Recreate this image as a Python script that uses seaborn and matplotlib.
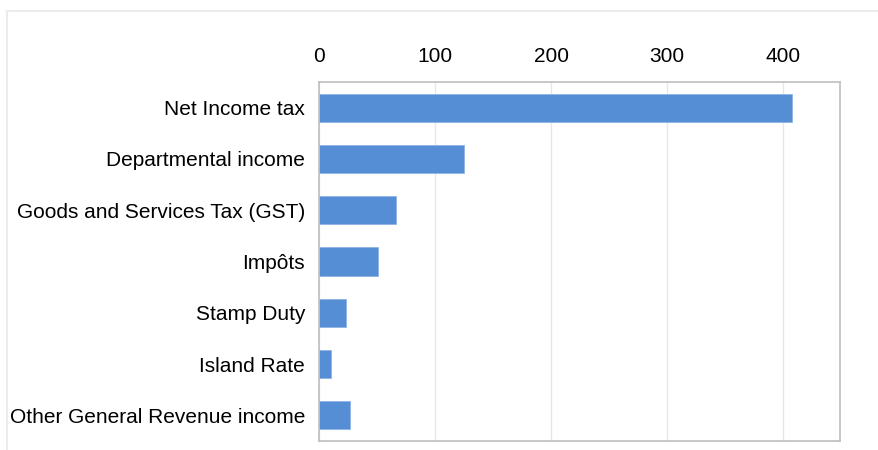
import numpy as np
import pandas as pd
import matplotlib.pyplot as plt
import seaborn as sns
from matplotlib.patches import Rectangle

categories = ["Net Income tax", "Departmental income", "Goods and Services Tax (GST)",
              "Impôts", "Stamp Duty", "Island Rate", "Other General Revenue income"]
values = [408, 125, 66, 51, 23, 10, 27]
x_ticks = [0, 100, 200, 300, 400]

df = pd.DataFrame({"category": categories, "value": values})

sns.set_style("white")
plt.rcParams['font.family'] = ['Liberation Sans', 'DejaVu Sans']

fig = plt.figure(figsize=(8.79, 4.5), dpi=100)
ax = fig.add_axes([319 / 879, 1 - 441 / 450, (840 - 319) / 879, (441 - 82) / 450])

sns.barplot(data=df, x="value", y="category", color="#558ED5", width=0.55,
            saturation=1, edgecolor="#8fb4e6", linewidth=0.6, ax=ax)

ax.set_xlim(0, 449)
ax.set_xticks(x_ticks)
ax.xaxis.tick_top()
ax.set_xlabel("")
ax.set_ylabel("")
ax.grid(axis="x", color="#e6e6e6", linewidth=1)
ax.set_axisbelow(True)
ax.tick_params(axis="x", length=0, pad=11.5, labelsize=15, labelcolor="black")
ax.tick_params(axis="y", length=0, pad=10, labelsize=15, labelcolor="black")
for s in ax.spines.values():
    s.set_visible(True)
    s.set_color("#bfbfbf")
    s.set_linewidth(1.2)

# outer chart frame
fig.patches.append(Rectangle((7 / 879, -0.1), 1.2, 1 - 11 / 450 + 0.1,
                             transform=fig.transFigure, fill=False,
                             edgecolor="#ececec", linewidth=1.5))

fig.savefig("out.png", dpi=100)
